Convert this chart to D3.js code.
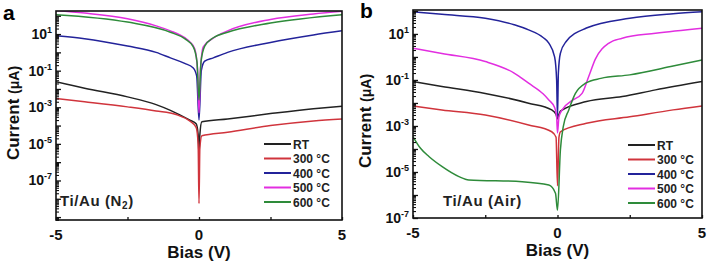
<!DOCTYPE html>
<html>
<head>
<meta charset="utf-8">
<script src="https://cdn.jsdelivr.net/npm/d3@7"></script>
<style>
  body { margin: 0; background: #fff; }
  svg { display: block; font-family: "Liberation Sans", Arial, sans-serif; }
</style>
</head>
<body>
<svg id="chart" width="709" height="263"></svg>
<script>
// legend entries shared by both panels
const seriesNames = ["RT", "300 \u00B0C", "400 \u00B0C", "500 \u00B0C", "600 \u00B0C"];
const seriesColors = ["#222222", "#d0343c", "#23239a", "#e22ee0", "#2e8b3a"];

// panel a: Ti/Au (N2), [bias V, current uA]
const a_RT = [[-5, 2.5e-2], [-4, 1.1e-2], [-2.5, 3.7e-3], [-1.5, 1.4e-3], [-1, 6.8e-4], [-0.3, 1.9e-4], [-0.1, 1.26e-4],
  [-0.03, 3.2e-5], [0, 2.5e-6], [0.03, 3.2e-5], [0.1, 1.6e-4], [1, 2.3e-4], [2.5, 4.5e-4], [4, 8.3e-4], [5, 1.15e-3]];
const a_300 = [[-5, 3e-3], [-4, 2e-3], [-2.5, 1.05e-3], [-1.5, 6.3e-4], [-0.8, 4e-4], [-0.3, 1.66e-4], [-0.1, 8e-5],
  [-0.03, 1e-5], [0, 5.5e-9], [0.03, 6e-6], [0.1, 2.75e-5], [1, 4.3e-5], [2.5, 1e-4], [4, 1.8e-4], [5, 2.3e-4]];
const a_400 = [[-5, 8.1], [-4, 5.6], [-2.5, 2.2], [-1.5, 1.0], [-1, 0.5], [-0.5, 0.25], [-0.2, 0.14], [-0.08, 0.05],
  [0, 2e-4], [0.08, 0.1], [0.2, 0.33], [0.5, 0.5], [1, 1.0], [2.5, 3.5], [4, 8.9], [5, 15]];
const a_500 = [[-5, 195], [-4, 140], [-2.5, 68], [-1.5, 28], [-1, 15], [-0.5, 6.3], [-0.3, 3.5], [-0.15, 1.6], [-0.05, 0.1],
  [0, 5e-4], [0.05, 0.1], [0.15, 2], [0.5, 6], [1, 15], [2.5, 63], [4, 126], [5, 175]];
const a_600 = [[-5, 115], [-2.5, 45], [-1, 12.6], [-0.5, 5.6], [-0.2, 2], [-0.07, 0.3], [0, 2.5e-3], [0.07, 0.3],
  [0.2, 2.2], [0.5, 6.3], [1, 12.6], [2.5, 40], [5, 115]];

// panel b: Ti/Au (Air)
const b_RT = [[-5, 0.085], [-4, 0.052], [-2.5, 0.026], [-1, 9.8e-3], [-0.2, 5e-3], [-0.05, 3.2e-3], [0, 2e-3],
  [0.05, 3.2e-3], [0.1, 4.4e-3], [1, 0.0115], [2.24, 0.019], [3.39, 0.037], [5, 0.085]];
const b_300 = [[-5, 7.4e-3], [-4, 5e-3], [-2.5, 3e-3], [-1, 1.1e-3], [-0.2, 5.6e-4], [-0.05, 3.2e-4], [0, 2.5e-6],
  [0.05, 3.2e-4], [0.1, 5.6e-4], [1, 1.3e-3], [2.5, 2.5e-3], [4, 5e-3], [5, 7.4e-3]];
const b_400 = [[-5, 93], [-4, 71], [-2.5, 48], [-1.5, 25], [-1, 15], [-0.5, 7], [-0.3, 4], [-0.1, 1], [-0.03, 0.1],
  [0, 2.5e-3], [0.03, 0.2], [0.1, 1.45], [0.3, 4.7], [1, 18], [2.5, 48], [4, 76], [5, 93]];
const b_500 = [[-5, 2.4], [-4, 1.4], [-2.5, 0.63], [-1.5, 0.2], [-1, 0.072], [-0.5, 0.025], [-0.3, 0.0135], [-0.1, 6.3e-3],
  [-0.03, 2.5e-3], [0, 5e-4], [0.05, 2.5e-3], [0.16, 5e-3], [0.5, 0.0126], [0.85, 0.026], [1.08, 0.14], [1.31, 0.8],
  [1.78, 4], [2.24, 6.5], [3.39, 10.7], [5, 17.8]];
const b_600 = [[-5, 3.4e-4], [-4.74, 1.07e-4], [-4.45, 4.7e-5], [-3.99, 1.7e-5], [-3.41, 6.3e-6], [-3.07, 4.5e-6],
  [-1.22, 3.8e-6], [-0.3, 2.7e-6], [-0.07, 1.2e-6], [0, 2.2e-7], [0.1, 9e-5], [0.2, 9.3e-4], [0.39, 5e-3],
  [0.62, 0.026], [0.97, 0.072], [1.5, 0.117], [2.5, 0.166], [4, 0.4], [5, 0.74]];

const xTicks = [-5, 0, 5];
const xMinorTicks = [-2.5, 2.5];
const yLabelExps = [1, -1, -3, -5, -7];

const svg = d3.select("#chart");

function drawPanel(opts) {
    const g = svg.append("g");
    const x = d3.scaleLinear().domain([-5, 5]).range([opts.left, opts.right]);
    const y = d3.scaleLog().domain(opts.yDomain).range([opts.bottom, opts.top]);

    const clipId = "clip-" + opts.letter;
    g.append("clipPath").attr("id", clipId).append("rect")
        .attr("x", opts.left).attr("y", opts.top)
        .attr("width", opts.right - opts.left).attr("height", opts.bottom - opts.top);

    const line = d3.line().x(d => x(d[0])).y(d => y(d[1])).curve(d3.curveMonotoneX);
    g.append("g").attr("clip-path", "url(#" + clipId + ")")
        .selectAll("path")
        .data(opts.series)
        .join("path")
            .attr("d", d => line(d))
            .attr("fill", "none")
            .attr("stroke", (d, i) => seriesColors[i])
            .attr("stroke-width", 1.5)
            .attr("stroke-linejoin", "round");

    // y ticks: every decade major, log minors
    const lo = Math.ceil(Math.log10(opts.yDomain[0]) - 1), hi = Math.floor(Math.log10(opts.yDomain[1]));
    const majors = [], minors = [];
    for (let e = lo; e <= hi; e++) {
        const v = Math.pow(10, e);
        if (v >= opts.yDomain[0] && v <= opts.yDomain[1]) majors.push(v);
        for (let k = 2; k <= 9; k++) {
            const m = k * v;
            if (m >= opts.yDomain[0] && m <= opts.yDomain[1]) minors.push(m);
        }
    }
    g.append("g").attr("transform", "translate(" + opts.left + ",0)")
        .call(d3.axisLeft(y).tickValues(majors).tickSizeInner(-5).tickSizeOuter(0).tickFormat(""))
        .call(s => s.select(".domain").remove())
        .call(s => s.selectAll("line").attr("stroke", "#111").attr("stroke-width", 1.3));
    g.append("g").attr("transform", "translate(" + opts.left + ",0)")
        .call(d3.axisLeft(y).tickValues(minors).tickSizeInner(-3).tickSizeOuter(0).tickFormat(""))
        .call(s => s.select(".domain").remove())
        .call(s => s.selectAll("line").attr("stroke", "#111").attr("stroke-width", 1.1));

    const yl = g.append("g").selectAll("text")
        .data(yLabelExps.filter(e => Math.pow(10, e) >= opts.yDomain[0]))
        .join("text")
            .attr("x", opts.left - 4)
            .attr("y", e => y(Math.pow(10, e)) + 5)
            .attr("text-anchor", "end")
            .attr("font-weight", "bold")
            .attr("font-size", 14)
            .attr("fill", "#111");
    yl.append("tspan").text("10");
    yl.append("tspan").attr("dy", -6).attr("font-size", 9).text(e => e);

    // x ticks
    g.append("g").attr("transform", "translate(0," + opts.bottom + ")")
        .call(d3.axisBottom(x).tickValues(xTicks.concat(xMinorTicks)).tickSizeInner(-3).tickSizeOuter(0).tickFormat(""))
        .call(s => s.select(".domain").remove())
        .call(s => s.selectAll("line").attr("stroke", "#111").attr("stroke-width", 1.3));
    g.append("g").selectAll("text")
        .data(xTicks)
        .join("text")
            .attr("x", d => x(d))
            .attr("y", opts.bottom + 20)
            .attr("text-anchor", "middle")
            .attr("font-weight", "bold")
            .attr("font-size", 15)
            .attr("fill", "#111")
            .text(d => d);

    // frame
    g.append("rect")
        .attr("x", opts.left).attr("y", opts.top)
        .attr("width", opts.right - opts.left).attr("height", opts.bottom - opts.top)
        .attr("fill", "none").attr("stroke", "#111").attr("stroke-width", 1.6);

    // axis titles
    g.append("text")
        .attr("x", (opts.left + opts.right) / 2).attr("y", opts.bottom + 38)
        .attr("text-anchor", "middle").attr("font-weight", "bold").attr("font-size", 17).attr("fill", "#111")
        .text("Bias (V)");
    const yt = g.append("text")
        .attr("transform", "translate(" + opts.yTitleX + "," + opts.yTitleY + ") rotate(-90)")
        .attr("text-anchor", "middle").attr("font-weight", "bold").attr("font-size", 17).attr("fill", "#111");
    yt.append("tspan").text("Current ");
    yt.append("tspan").attr("font-size", 14).text("(\u03BCA)");

    // panel letter
    g.append("text")
        .attr("x", opts.letterX).attr("y", opts.letterY)
        .attr("font-weight", "bold").attr("font-size", 21).attr("fill", "#000")
        .text(opts.letter);

    // sample label
    const sl = g.append("text")
        .attr("x", opts.sampleX).attr("y", 206)
        .attr("font-weight", "bold").attr("font-size", 15).attr("letter-spacing", 0.6).attr("fill", "#222");
    opts.sample.forEach(p => {
        const t = sl.append("tspan").text(p[0]);
        if (p[1]) t.attr("font-size", 10).attr("dy", 3);
        else if (p[2]) t.attr("dy", -3);
    });

    // legend
    const leg = g.append("g").selectAll("g")
        .data(seriesNames)
        .join("g")
            .attr("transform", (d, i) => "translate(" + opts.legX + "," + (opts.legY + i * 14.5) + ")");
    leg.append("line")
        .attr("x1", 0).attr("x2", 27)
        .attr("stroke", (d, i) => seriesColors[i]).attr("stroke-width", 2);
    leg.append("text")
        .attr("x", 29).attr("y", 4.5)
        .attr("font-weight", "bold").attr("font-size", 12).attr("fill", "#222")
        .text(d => d);
}

drawPanel({
    letter: "a", letterX: 3, letterY: 20,
    left: 56, right: 342, top: 11, bottom: 220,
    yDomain: [Math.pow(10, -9.16), Math.pow(10, 2.26)],
    series: [a_RT, a_300, a_400, a_500, a_600],
    yTitleX: 19, yTitleY: 113,
    legX: 264, legY: 144,
    sampleX: 60,
    sample: [["Ti/Au (N"], ["2", true], [")", false, true]]
});

drawPanel({
    letter: "b", letterX: 360, letterY: 18,
    left: 413, right: 702, top: 10, bottom: 218,
    yDomain: [1e-7, Math.pow(10, 2.04)],
    series: [b_RT, b_300, b_400, b_500, b_600],
    yTitleX: 371, yTitleY: 121,
    legX: 628, legY: 145,
    sampleX: 443,
    sample: [["Ti/Au (Air)"]]
});
</script>
</body>
</html>
